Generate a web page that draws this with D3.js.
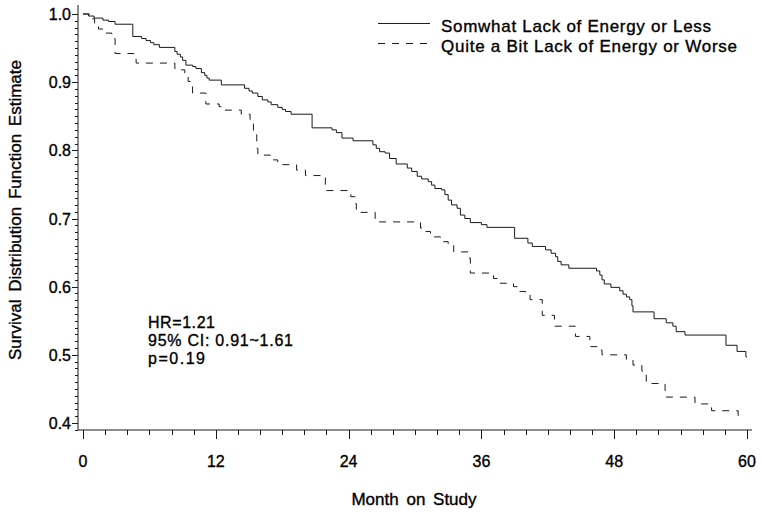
<!DOCTYPE html>
<html>
<head>
<meta charset="utf-8">
<script src="https://cdn.jsdelivr.net/npm/d3@7"></script>
<style>
  html, body { margin: 0; padding: 0; background: #fff; }
  svg { display: block; font-family: "Liberation Sans", Arial, Helvetica, sans-serif; }
  svg text { stroke: #000; stroke-width: 0.35px; }
</style>
</head>
<body>
<svg id="chart" width="762" height="514"></svg>
<script>
// ---------------- DATA ----------------
const seriesNames = ["Somwhat Lack of Energy or Less", "Quite a Bit Lack of Energy or Worse"];
const monthTicks = [0, 12, 24, 36, 48, 60];
const survTicks = [0.4, 0.5, 0.6, 0.7, 0.8, 0.9, 1.0];
const annotationLines = ["HR=1.21", "95% CI: 0.91~1.61", "p=0.19"];

// Series 1 (solid): step times (months) and survival after each step
const solidTime = [0, 0.5, 1.0, 1.8, 2.3, 2.9, 4.5, 5.3, 5.7, 6.1, 6.4, 6.9, 8.3, 8.5, 8.8, 9.0, 9.3, 9.9, 10.2, 10.7, 11.0, 11.2, 11.4,
  12.5, 14.6, 15.0, 15.3, 15.8, 16.2, 16.7, 17.0, 17.6, 18.0, 18.3, 18.8, 20.7, 22.5, 22.9, 23.4, 24.4, 26.2, 26.5, 26.8, 27.3, 27.7,
  28.3, 29.3, 29.7, 30.2, 30.6, 31.2, 31.5, 31.8, 32.4, 32.7, 33.0, 33.3, 33.8, 34.1, 34.5, 35.0, 36.0, 36.5, 39.0, 40.2, 40.6,
  41.8, 42.3, 42.7, 42.9, 43.2, 43.9, 46.4, 46.7, 46.9, 47.1, 47.7, 48.5, 48.8, 49.1, 49.4, 49.6, 49.7, 51.6, 52.7, 53.3, 53.6,
  54.4, 58.1, 59.1, 59.9, 60.0];
const solidSurv = [1.000, 0.997, 0.994, 0.991, 0.989, 0.985, 0.967, 0.964, 0.961, 0.958, 0.955, 0.951, 0.945, 0.941, 0.937, 0.932, 0.925, 0.923, 0.920, 0.914, 0.910, 0.906, 0.903,
  0.896, 0.891, 0.887, 0.884, 0.879, 0.874, 0.871, 0.867, 0.863, 0.860, 0.857, 0.853, 0.833, 0.830, 0.826, 0.818, 0.814, 0.808, 0.803, 0.798, 0.796, 0.788,
  0.780, 0.774, 0.769, 0.762, 0.758, 0.754, 0.749, 0.744, 0.742, 0.735, 0.727, 0.720, 0.715, 0.705, 0.700, 0.694, 0.691, 0.687, 0.671, 0.664, 0.659,
  0.654, 0.649, 0.644, 0.637, 0.632, 0.627, 0.623, 0.617, 0.610, 0.604, 0.599, 0.594, 0.589, 0.585, 0.581, 0.572, 0.563, 0.553, 0.547, 0.542, 0.534,
  0.529, 0.514, 0.505, 0.497, 0.497];

// Series 2 (dashed)
const dashTime = [0, 0.6, 1.05, 1.4, 2.0, 2.6, 2.9, 4.6, 4.8, 8.3, 8.7, 9.2, 9.5, 9.9, 11.1, 12.3, 12.7, 14.3, 15.1, 15.4, 15.7, 15.8,
  16.9, 17.6, 19.3, 20.1, 21.9, 24.2, 24.6, 24.7, 26.4, 30.5, 30.9, 31.4, 32.3, 33.0, 33.5, 34.8, 35.0, 37.1, 37.7, 38.9, 39.3,
  40.0, 40.4, 41.5, 42.6, 44.5, 45.8, 46.6, 46.9, 49.1, 49.7, 50.5, 50.9, 52.6, 52.7, 55.3, 56.8, 59.2, 59.4];
const dashSurv = [1.000, 0.993, 0.986, 0.978, 0.972, 0.964, 0.942, 0.935, 0.928, 0.920, 0.918, 0.913, 0.901, 0.884, 0.868, 0.864, 0.859, 0.853, 0.845, 0.823, 0.803, 0.793,
  0.786, 0.779, 0.771, 0.763, 0.741, 0.732, 0.722, 0.709, 0.695, 0.686, 0.681, 0.673, 0.666, 0.663, 0.651, 0.642, 0.620, 0.612, 0.605, 0.600, 0.593,
  0.589, 0.581, 0.558, 0.542, 0.527, 0.512, 0.507, 0.500, 0.493, 0.485, 0.476, 0.458, 0.446, 0.438, 0.428, 0.418, 0.405, 0.405];

// ---------------- DRAW ----------------
const svg = d3.select("#chart");
const ink = "#1a1a1a";

const x = d3.scaleLinear().domain([0, 60]).range([83, 747]);
const y = d3.scaleLinear().domain([0.4, 1.0]).range([423, 14]);

const axisLeftX = 78, axisBottomY = 430, axisTopY = 5, axisRightX = 752;

// axis lines
svg.append("line").attr("x1", axisLeftX).attr("x2", axisLeftX).attr("y1", axisTopY).attr("y2", axisBottomY)
  .attr("stroke", ink).attr("stroke-width", 1);
svg.append("line").attr("x1", axisLeftX).attr("x2", axisRightX).attr("y1", axisBottomY).attr("y2", axisBottomY)
  .attr("stroke", ink).attr("stroke-width", 1);

// y ticks: minor every 0.01, major every 0.1
const yMinor = d3.range(39, 101).map(d => d / 100);
svg.append("g").selectAll("line").data(yMinor).join("line")
  .attr("x1", axisLeftX).attr("x2", d => (Math.round(d * 100) % 10 === 0) ? axisLeftX - 6 : axisLeftX - 3)
  .attr("y1", d => Math.round(y(d)) + 0.5).attr("y2", d => Math.round(y(d)) + 0.5)
  .attr("stroke", ink).attr("stroke-width", 1);
svg.append("g").selectAll("text").data(survTicks).join("text")
  .attr("x", 71).attr("y", d => y(d) + 6)
  .attr("text-anchor", "end").attr("font-size", 16).attr("fill", "#000")
  .text(d => d3.format(".1f")(d));

// x ticks: minor every 2 months
const xMinor = d3.range(0, 61, 2);
svg.append("g").selectAll("line").data(xMinor).join("line")
  .attr("x1", d => Math.round(x(d)) + 0.5).attr("x2", d => Math.round(x(d)) + 0.5)
  .attr("y1", axisBottomY).attr("y2", d => d % 12 === 0 ? axisBottomY + 9 : axisBottomY + 5)
  .attr("stroke", ink).attr("stroke-width", 1);
svg.append("g").selectAll("text").data(monthTicks).join("text")
  .attr("x", d => x(d)).attr("y", 467)
  .attr("text-anchor", "middle").attr("font-size", 16).attr("fill", "#000")
  .text(d => d);

// axis titles
svg.append("text").attr("x", 414).attr("y", 505).attr("text-anchor", "middle")
  .attr("font-size", 17).attr("fill", "#000").attr("word-spacing", 3).text("Month on Study");
svg.append("text").attr("transform", "translate(21,210) rotate(-90)").attr("text-anchor", "middle")
  .attr("font-size", 17).attr("fill", "#000").attr("word-spacing", 3).text("Survival Distribution Function Estimate");

// curves
const line = d3.line().curve(d3.curveStepAfter).x(d => x(d[0])).y(d => y(d[1]));
const solidData = solidTime.map((t, i) => [t, solidSurv[i]]);
const dashData = dashTime.map((t, i) => [t, dashSurv[i]]);

svg.append("path").attr("d", line(solidData)).attr("fill", "none")
  .attr("stroke", ink).attr("stroke-width", 1);
svg.append("path").attr("d", line(dashData)).attr("fill", "none")
  .attr("stroke", ink).attr("stroke-width", 1).attr("stroke-dasharray", "7,7");

// legend
const legendY = [23, 43];
const legendStyles = [null, "7,7"];
const legendWidths = [270, 296];
seriesNames.forEach((name, i) => {
  const ln = svg.append("line").attr("x1", 378).attr("x2", 430).attr("y1", legendY[i] + 0.5).attr("y2", legendY[i] + 0.5)
    .attr("stroke", ink).attr("stroke-width", 1);
  if (legendStyles[i]) ln.attr("stroke-dasharray", legendStyles[i]);
  svg.append("text").attr("x", 441).attr("y", legendY[i] + 8.5).attr("font-size", 17).attr("fill", "#000")
    .attr("textLength", legendWidths[i]).attr("lengthAdjust", "spacing").text(name);
});

// annotation
const annotWidths = [67, 145, 57];
svg.append("g").selectAll("text").data(annotationLines).join("text")
  .attr("x", 148).attr("y", (d, i) => 328 + i * 18)
  .attr("font-size", 16).attr("fill", "#000")
  .attr("textLength", (d, i) => annotWidths[i]).attr("lengthAdjust", "spacing")
  .text(d => d);
</script>
</body>
</html>
